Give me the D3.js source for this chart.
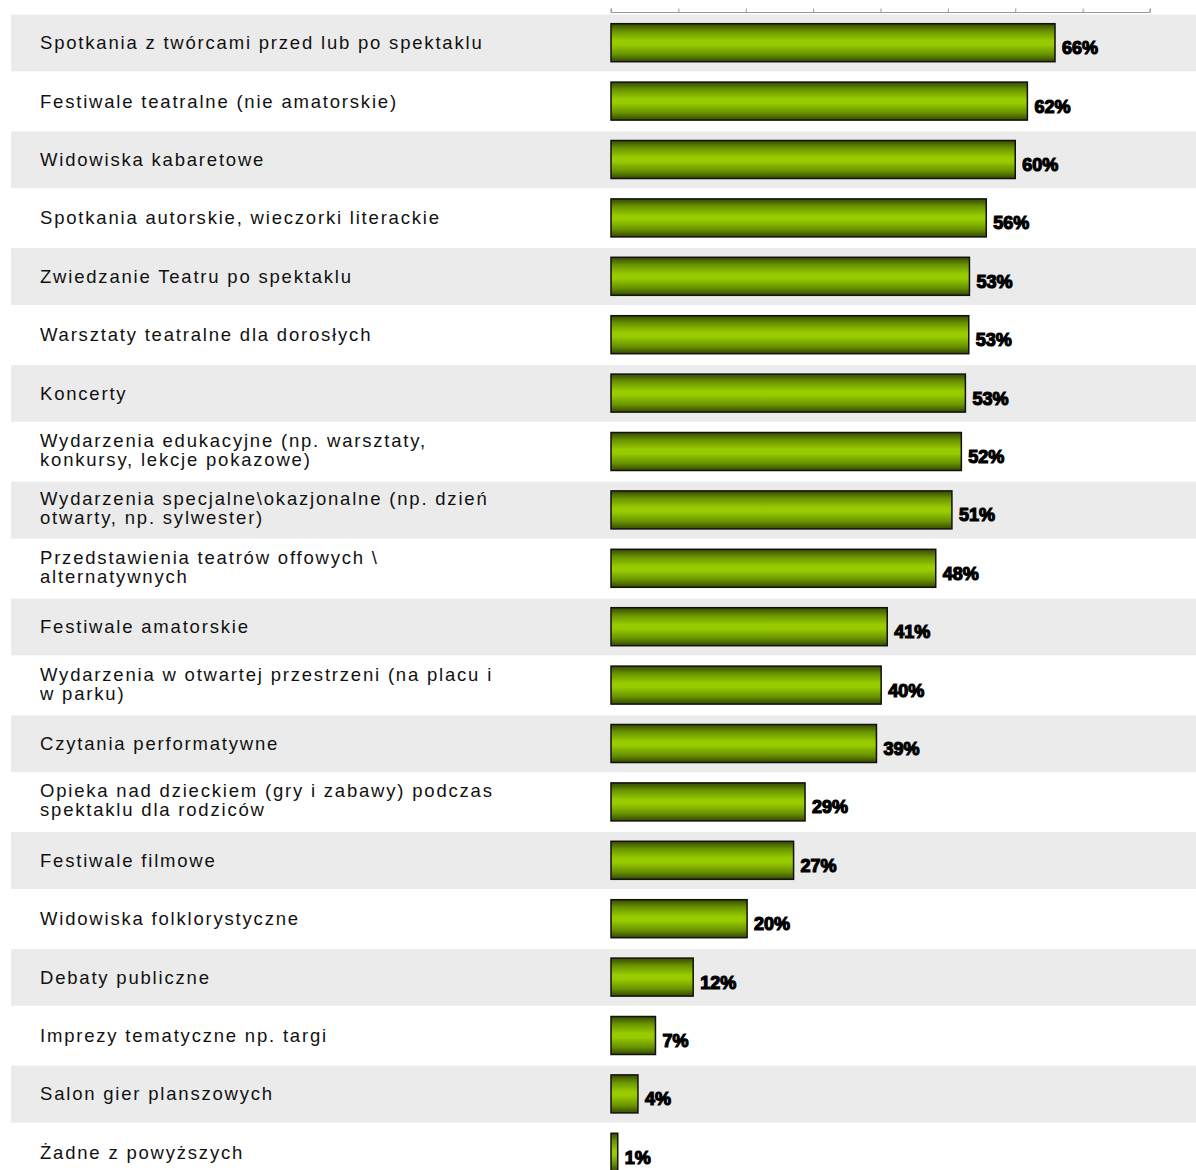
<!DOCTYPE html>
<html><head><meta charset="utf-8">
<script src="https://cdn.jsdelivr.net/npm/d3@7"></script>
<style>html,body{margin:0;padding:0;background:#fff;overflow:hidden}</style>
</head><body>
<svg id="c" width="1196" height="1170"></svg>
<script>
const categories = [
  ["Spotkania z twórcami przed lub po spektaklu"],
  ["Festiwale teatralne (nie amatorskie)"],
  ["Widowiska kabaretowe"],
  ["Spotkania autorskie, wieczorki literackie"],
  ["Zwiedzanie Teatru po spektaklu"],
  ["Warsztaty teatralne dla dorosłych"],
  ["Koncerty"],
  ["Wydarzenia edukacyjne (np. warsztaty,", "konkursy, lekcje pokazowe)"],
  ["Wydarzenia specjalne\\okazjonalne (np. dzień", "otwarty, np. sylwester)"],
  ["Przedstawienia teatrów offowych \\", "alternatywnych"],
  ["Festiwale amatorskie"],
  ["Wydarzenia w otwartej przestrzeni (na placu i", "w parku)"],
  ["Czytania performatywne"],
  ["Opieka nad dzieckiem (gry i zabawy) podczas", "spektaklu dla rodziców"],
  ["Festiwale filmowe"],
  ["Widowiska folklorystyczne"],
  ["Debaty publiczne"],
  ["Imprezy tematyczne np. targi"],
  ["Salon gier planszowych"],
  ["Żadne z powyższych"]
];
const values = [65.9, 61.8, 60.0, 55.7, 53.2, 53.1, 52.6, 52.0, 50.6, 48.2, 41.0, 40.1, 39.4, 28.8, 27.1, 20.2, 12.2, 6.6, 4.0, 1.0];
const valueLabels = ["66%","62%","60%","56%","53%","53%","53%","52%","51%","48%","41%","40%","39%","29%","27%","20%","12%","7%","4%","1%"];
const tickValues = [0,10,20,30,40,50,60,70,80];

const svg = d3.select("#c");
const idx = d3.range(categories.length);
const x = d3.scaleLinear().domain([0,80]).range([611,1150]);
const y = d3.scaleBand().domain(idx).range([14, 14 + 58.4*categories.length]).padding(0);

const defs = svg.append("defs");
const g = defs.append("linearGradient").attr("id","barGrad").attr("x1",0).attr("y1",0).attr("x2",0).attr("y2",1);
[[0,"#354a00"],[0.2,"#6a9400"],[0.45,"#99cc00"],[0.55,"#99cc00"],[0.8,"#6a9400"],[1,"#354a00"]]
  .forEach(([o,c])=>g.append("stop").attr("offset",o).attr("stop-color",c));

// bands
svg.append("g").selectAll("rect").data(idx.filter(i=>i%2===0)).join("rect")
  .attr("x",11).attr("width",1196-11)
  .attr("y",i=>y(i)+0.5).attr("height",y.bandwidth()-1.5)
  .attr("fill","#ebebeb");

// axis
const axis = d3.axisTop(x).tickValues(tickValues).tickSize(4).tickFormat("");
const ag = svg.append("g").attr("transform","translate(0,12.5)").call(axis);
ag.select(".domain").attr("stroke","#9a9a9a").attr("d","M611,-4V0H1150V-4");
ag.selectAll(".tick line").attr("stroke","#9a9a9a");

// labels
const lab = svg.append("g").attr("font-family","'Liberation Sans', Arial, sans-serif")
  .attr("font-size","18.5px").attr("fill","#111").style("letter-spacing","1.8px");
idx.forEach(i=>{
  const lines = categories[i];
  const cy = y(i)+y.bandwidth()/2;
  const t = lab.append("text").attr("x",40);
  if(lines.length===1){
    t.attr("y",cy+6).text(lines[0]);
  } else {
    t.append("tspan").attr("x",40).attr("y",cy-5).text(lines[0]);
    t.append("tspan").attr("x",40).attr("y",cy+14).text(lines[1]);
  }
});

// bars
svg.append("g").selectAll("rect").data(idx).join("rect")
  .attr("x",x(0)).attr("y",i=>y(i)+y.bandwidth()/2-19.5)
  .attr("width",i=>x(values[i])-x(0)).attr("height",38)
  .attr("fill","url(#barGrad)").attr("stroke","#111").attr("stroke-width",1.5);

// value labels
svg.append("g").selectAll("text").data(idx).join("text")
  .attr("x",i=>x(values[i])+7).attr("y",i=>y(i)+y.bandwidth()/2+11)
  .attr("font-family","'Liberation Sans', Arial, sans-serif").attr("font-weight","bold")
  .attr("font-size","18px").attr("fill","#000").attr("stroke","#000").attr("stroke-width",1.2)
  .style("letter-spacing","0px")
  .text(i=>valueLabels[i]);
</script>
</body></html>
